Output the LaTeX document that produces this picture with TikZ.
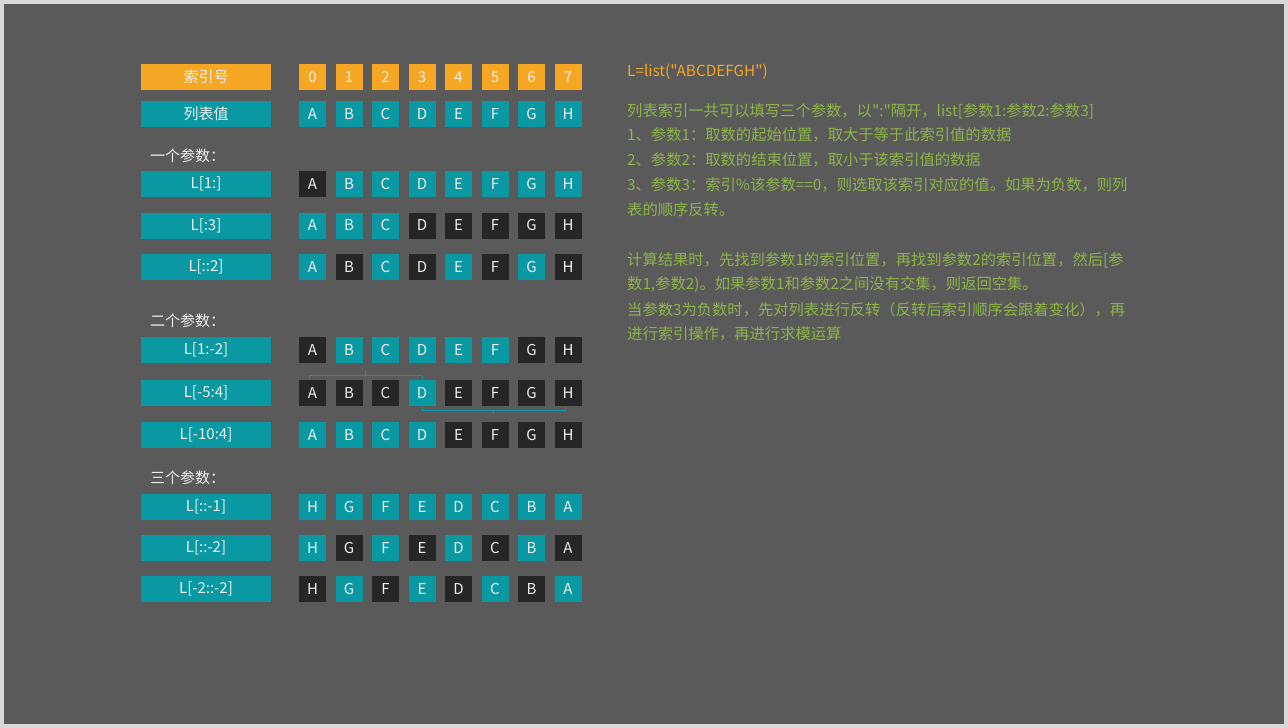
\documentclass[tikz,border=0pt]{standalone}
\usepackage{fontspec}
\setmainfont{Noto Sans CJK SC}
\newfontfamily\cjk{Noto Sans CJK SC}
\usetikzlibrary{calc}
\definecolor{bg}{HTML}{5A5A5A}
\definecolor{frm}{HTML}{D9D9D9}
\definecolor{tealc}{HTML}{0A98A2}
\definecolor{darkc}{HTML}{262626}
\definecolor{orng}{HTML}{F5A623}
\definecolor{grn}{HTML}{8DB548}
\definecolor{txt}{HTML}{F0F0F0}
\begin{document}
\begin{tikzpicture}[x=1pt,y=-1pt,
  box/.style={inner sep=0pt,text=txt,font=\cjk\fontsize{15}{15}\selectfont},
  lblt/.style={box,fill=tealc,minimum width=130pt,minimum height=26pt},
  lblo/.style={box,fill=orng,minimum width=130pt,minimum height=26pt},
  cellt/.style={box,fill=tealc,minimum width=27pt,minimum height=26pt},
  celld/.style={box,fill=darkc,minimum width=27pt,minimum height=26pt},
  cello/.style={box,fill=orng,minimum width=27pt,minimum height=26pt},
  head/.style={inner sep=0pt,anchor=west,text=txt,font=\cjk\fontsize{15}{15}\selectfont},
  note/.style={inner sep=0pt,anchor=west,text=grn,font=\cjk\fontsize{15.3}{15}\selectfont},
  brk/.style={draw=tealc,line width=0.8pt}]
\fill[frm] (0,0) rectangle (1288,728);
\fill[bg] (4,4) rectangle (1284,724);
\useasboundingbox (0,0) rectangle (1288,728);

% rows
\foreach \r/\y/\lab/\ls/\cells in {
  z/77/{索引号}/lblo/{0/o,1/o,2/o,3/o,4/o,5/o,6/o,7/o},
  v/114/{列表值}/lblt/{A/t,B/t,C/t,D/t,E/t,F/t,G/t,H/t},
  a/184/{L[1:]}/lblt/{A/d,B/t,C/t,D/t,E/t,F/t,G/t,H/t},
  b/225.5/{L[:3]}/lblt/{A/t,B/t,C/t,D/d,E/d,F/d,G/d,H/d},
  c/267/{L[::2]}/lblt/{A/t,B/d,C/t,D/d,E/t,F/d,G/t,H/d},
  d/350/{L[1:-2]}/lblt/{A/d,B/t,C/t,D/t,E/t,F/t,G/d,H/d},
  f/393/{L[-5:4]}/lblt/{A/d,B/d,C/d,D/t,E/d,F/d,G/d,H/d},
  g/434.5/{L[-10:4]}/lblt/{A/t,B/t,C/t,D/t,E/d,F/d,G/d,H/d},
  h/506.5/{L[::-1]}/lblt/{H/t,G/t,F/t,E/t,D/t,C/t,B/t,A/t},
  i/548/{L[::-2]}/lblt/{H/t,G/d,F/t,E/d,D/t,C/d,B/t,A/d},
  j/589/{L[-2::-2]}/lblt/{H/d,G/t,F/d,E/t,D/d,C/t,B/d,A/t}}{
  \node[\ls] (\r l) at (206,\y) {\lab};
  \foreach \ch/\st [count=\i from 0] in \cells {
    \node[cell\st] (\r\i) at (312.5+36.5*\i,\y) {\ch};
  }
}

\node[head] (h1) at (150,156) {一个参数：};
\node[head] (h2) at (150,321) {二个参数：};
\node[head] (h3) at (150,478) {三个参数：};

% brackets around L[-5:4]
\coordinate (u1) at ([xshift=-3.5pt,yshift=4pt]f0.north);
\coordinate (u2) at ([yshift=4pt]f3.north);
\draw[brk] ([yshift=-3pt]u1) -- (u1) -- (u2) -- ([yshift=-3pt]u2);
\draw[brk] ($(u1)!0.5!(u2)$) -- ++(0pt,5pt);
\coordinate (l1) at ([yshift=-4pt]f3.south);
\coordinate (l2) at ([xshift=-3pt,yshift=-4pt]f7.south);
\draw[brk] ([yshift=3pt]l1) -- (l1) -- (l2) -- ([yshift=3pt]l2);
\draw[brk] ($(l1)!0.5!(l2)$) -- ++(0pt,-4pt);

% right text
\node[inner sep=0pt,anchor=west,text=orng,font=\cjk\fontsize{15.3}{15}\selectfont] (t0) at (627,72) {L=list("ABCDEFGH")};
\node[note] (t1) at (627,111) {列表索引一共可以填写三个参数，以":"隔开，list[参数1:参数2:参数3]};
\node[note] (t2) at (627,135) {1、参数1：取数的起始位置，取大于等于此索引值的数据};
\node[note] (t3) at (627,160) {2、参数2：取数的结束位置，取小于该索引值的数据};
\node[note] (t4) at (627,185) {3、参数3：索引\%该参数==0，则选取该索引对应的值。如果为负数，则列};
\node[note] (t5) at (627,210) {表的顺序反转。};
\node[note] (t6) at (627,260) {计算结果时，先找到参数1的索引位置，再找到参数2的索引位置，然后[参};
\node[note] (t7) at (627,285) {数1,参数2)。如果参数1和参数2之间没有交集，则返回空集。};
\node[note] (t8) at (627,310) {当参数3为负数时，先对列表进行反转（反转后索引顺序会跟着变化），再};
\node[note] (t9) at (627,334) {进行索引操作，再进行求模运算};
\end{tikzpicture}
\end{document}
